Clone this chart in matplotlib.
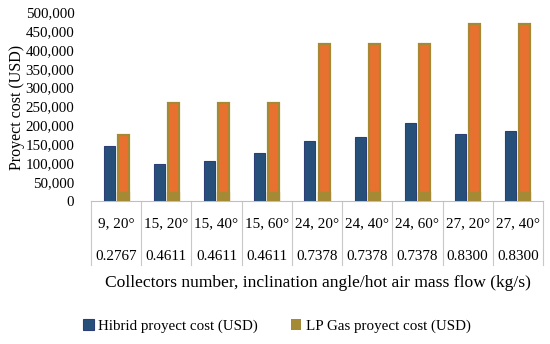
import matplotlib
matplotlib.use("Agg")
import matplotlib.pyplot as plt
import numpy as np

row1 = ["9, 20°", "15, 20°", "15, 40°", "15, 60°", "24, 20°", "24, 40°", "24, 60°", "27, 20°", "27, 40°"]
row2 = ["0.2767", "0.4611", "0.4611", "0.4611", "0.7378", "0.7378", "0.7378", "0.8300", "0.8300"]
hibrid = [145000, 98000, 106000, 127000, 158000, 169000, 206000, 176000, 184000]
lpgas = [175000, 260000, 260000, 260000, 415000, 415000, 415000, 468000, 468000]
lp_base = [22000] * 9
yticks = list(range(0, 500001, 50000))

plt.rcParams['font.family'] = ['Liberation Serif', 'DejaVu Serif']
fig = plt.figure(figsize=(5.5, 3.44), dpi=100)
ax = fig.add_axes([91/550, 1-201/344, (543-91)/550, (201-12)/344])

navy = "#26507A"
orange = "#E8712F"
olive = "#A58A35"
x = np.arange(len(row1))
w = 0.22
ax.bar(x - 0.14, hibrid, w, color=navy, edgecolor="#2C3E78", linewidth=0.8, label="Hibrid proyect cost (USD)", zorder=3)
ax.bar(x + 0.14, lpgas, w, color=orange, edgecolor=olive, linewidth=1.6, zorder=3)
ax.bar(x + 0.14, lp_base, w, color=olive, edgecolor=olive, linewidth=1.6, zorder=3)
ax.bar([0], [0], color=olive, label="LP Gas proyect cost (USD)")

ax.set_xlim(-0.5, len(row1) - 0.5)
ax.set_ylim(0, 500000)
ax.set_yticks(yticks)
ax.set_yticklabels([f"{v:,}" for v in yticks], fontsize=10.8)
ax.tick_params(axis='y', length=0, pad=12)
ax.set_xticks([])
for s in ['top', 'right', 'left']:
    ax.spines[s].set_visible(False)
ax.spines['bottom'].set_color("#BFBFBF")

# category table below axis
trans = ax.get_xaxis_transform()
tbl_bottom = -(265-201)/189
for i in range(len(row1) + 1):
    ax.plot([i - 0.5, i - 0.5], [0, tbl_bottom], transform=trans, color="#C8C8C8", lw=0.8, clip_on=False)
for i, (a, b) in enumerate(zip(row1, row2)):
    ax.text(i, -(224-201)/189, a, transform=trans, ha='center', va='center', fontsize=10.9)
    ax.text(i, -(256-201)/189, b, transform=trans, ha='center', va='center', fontsize=10.9)

fig.text(318/550, 1-283/344, "Collectors number, inclination angle/hot air mass flow (kg/s)", ha='center', va='center', fontsize=12.6)
fig.text(17/550, 1-107/344, "Proyect cost (USD)", rotation=90, ha='center', va='center', fontsize=11.5)

leg = fig.legend(loc='center', bbox_to_anchor=(277/550, 1-326/344), ncol=2, frameon=False,
                 fontsize=10.8, handlelength=0.7, handleheight=0.7, columnspacing=2.2, handletextpad=0.3)

fig.savefig("out.png", dpi=100)
